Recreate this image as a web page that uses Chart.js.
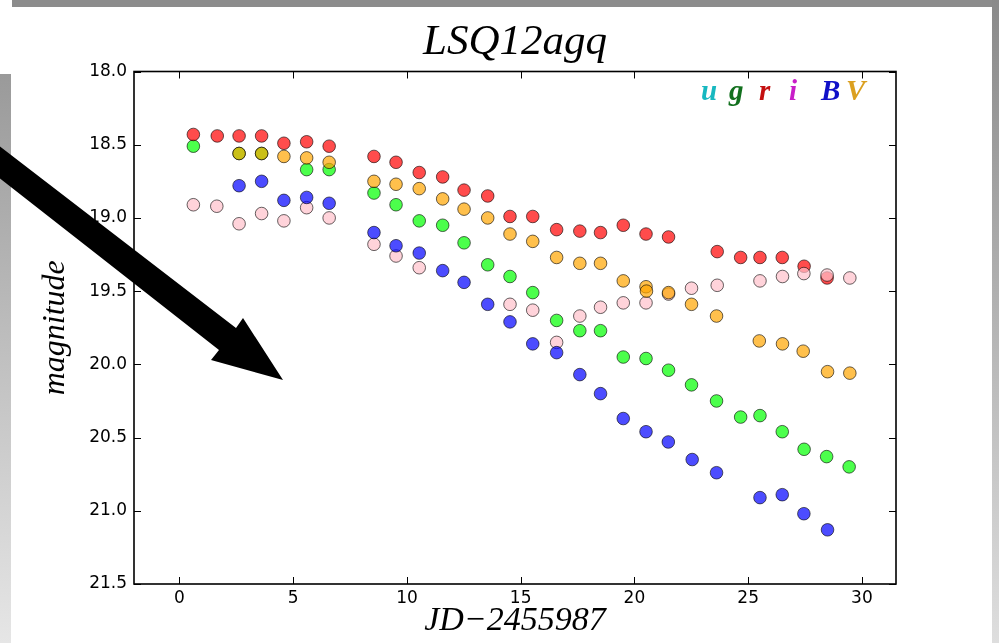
<!DOCTYPE html>
<html>
<head>
<meta charset="utf-8">
<script src="https://cdn.jsdelivr.net/npm/chart.js@4.4.1/dist/chart.umd.min.js"></script>
<style>
  html, body { margin:0; padding:0; background:#fff; }
  body { width:999px; height:643px; position:relative; overflow:hidden; }
  #wrap { position:absolute; left:0; top:0; width:999px; height:643px; }
  .strip-top { position:absolute; left:12px; top:0; width:987px; height:7px; background:#8c8c8c; }
  .strip-left { position:absolute; left:0; top:74px; width:11px; height:569px; background:linear-gradient(#9a9a9a,#e6e6e6); }
  .strip-right { position:absolute; left:992px; top:0; width:7px; height:643px; background:linear-gradient(#8a8a8a,#dedede); }
  #bands { position:absolute; left:0; top:0; font:italic bold 29px 'Liberation Serif'; line-height:28px; }
  #bands span { position:absolute; top:76px; }
  svg { position:absolute; left:0; top:0; }
</style>
</head>
<body>
<div class="strip-top"></div>
<div class="strip-left"></div>
<div class="strip-right"></div>
<div id="wrap"><canvas id="lc"></canvas></div>
<div id="bands">
  <span style="left:701px;color:#17b8c0">u</span>
  <span style="left:729px;color:#12701e">g</span>
  <span style="left:759px;color:#c41010">r</span>
  <span style="left:789px;color:#c81ec8">i</span>
  <span style="left:821px;color:#1010c8">B</span>
  <span style="left:846px;color:#dba020">V</span>
</div>
<svg width="999" height="643">
  <path d="M -11 138 L 236 328 L 243 318 L 283 380 L 211 360 L 219 350 L -26 158 Z" fill="#000"/>
</svg>
<script>
// light curve of LSQ12agq, magnitudes
const xTicks = [0, 5, 10, 15, 20, 25, 30];
const yTicks = [18.0, 18.5, 19.0, 19.5, 20.0, 20.5, 21.0, 21.5];

const rX   = [0.61,1.66,2.62,3.61,4.59,5.59,6.58,8.55,9.52,10.54,11.57,12.51,13.55,14.53,15.53,16.58,17.60,18.51,19.51,20.51,21.50,23.64,24.67,25.52,26.50,27.46,28.47];
const rMag = [18.43,18.44,18.44,18.44,18.49,18.48,18.51,18.58,18.62,18.69,18.72,18.81,18.85,18.99,18.99,19.08,19.09,19.10,19.05,19.11,19.13,19.23,19.27,19.27,19.27,19.33,19.41];

const gX   = [0.61,2.62,3.61,5.59,6.58,8.55,9.52,10.54,11.57,12.51,13.55,14.53,15.53,16.58,17.60,18.51,19.51,20.51,21.50,22.51,23.61,24.67,25.52,26.50,27.46,28.45,29.44];
const gMag = [18.51,18.56,18.56,18.67,18.67,18.83,18.91,19.02,19.05,19.17,19.32,19.40,19.51,19.70,19.77,19.77,19.95,19.96,20.04,20.14,20.25,20.36,20.35,20.46,20.58,20.63,20.70];

const iX   = [0.61,1.64,2.62,3.61,4.59,5.59,6.58,8.55,9.52,10.54,14.53,15.53,16.58,17.60,18.51,19.51,20.51,21.50,22.51,23.64,25.52,26.51,27.45,28.47,29.47];
const iMag = [18.91,18.92,19.04,18.97,19.02,18.93,19.00,19.18,19.26,19.34,19.59,19.63,19.85,19.67,19.61,19.58,19.58,19.52,19.48,19.46,19.43,19.40,19.38,19.39,19.41];

const bX   = [2.62,3.61,4.59,5.59,6.58,8.55,9.52,10.54,11.57,12.51,13.55,14.53,15.53,16.58,17.60,18.51,19.51,20.51,21.49,22.54,23.61,25.52,26.50,27.45,28.49];
const bMag = [18.78,18.75,18.88,18.86,18.90,19.10,19.19,19.24,19.36,19.44,19.59,19.71,19.86,19.92,20.07,20.20,20.37,20.46,20.53,20.65,20.74,20.91,20.89,21.02,21.13];

const vX   = [2.62,3.61,4.59,5.59,6.58,8.55,9.52,10.54,11.57,12.51,13.55,14.53,15.53,16.58,17.60,18.51,19.51,20.51,20.53,21.50,22.51,23.61,25.49,26.51,27.42,28.49,29.47];
const vMag = [18.56,18.56,18.58,18.59,18.62,18.75,18.77,18.80,18.87,18.94,19.00,19.11,19.16,19.27,19.31,19.31,19.43,19.47,19.50,19.51,19.59,19.67,19.84,19.86,19.91,20.05,20.06];

const pts = (xs, ys) => xs.map((x, k) => ({ x, y: ys[k] }));

function band(label, xs, ys, fill, order) {
  return {
    label, data: pts(xs, ys), order,
    backgroundColor: fill,
    borderColor: 'rgba(0,0,0,0.6)',
    borderWidth: 1,
    pointRadius: 6.3,
    pointHoverRadius: 6.3,
  };
}

// matplotlib-like frame with inward ticks on all four sides
const frame = {
  id: 'frame',
  afterDatasetsDraw(chart) {
    const { ctx, chartArea: a, scales: { x, y } } = chart;
    ctx.save();
    ctx.strokeStyle = '#000';
    ctx.lineWidth = 1;
    ctx.beginPath();
    xTicks.forEach(v => {
      const px = Math.round(x.getPixelForValue(v)) + 0.5;
      ctx.moveTo(px, a.bottom); ctx.lineTo(px, a.bottom - 7);
      ctx.moveTo(px, a.top);    ctx.lineTo(px, a.top + 7);
    });
    yTicks.forEach(v => {
      const py = Math.round(y.getPixelForValue(v)) + 0.5;
      ctx.moveTo(a.left, py);  ctx.lineTo(a.left + 7, py);
      ctx.moveTo(a.right, py); ctx.lineTo(a.right - 7, py);
    });
    ctx.stroke();
    ctx.lineWidth = 1.6;
    ctx.strokeRect(a.left, a.top, a.right - a.left, a.bottom - a.top);
    ctx.restore();
  }
};

const tickFont = { family: 'DejaVu Sans', size: 17 };

new Chart(document.getElementById('lc'), {
  type: 'scatter',
  data: {
    datasets: [
      band('g', gX, gMag, 'rgba(0,255,0,0.7)', 4),
      band('r', rX, rMag, 'rgba(255,0,0,0.7)', 3),
      band('i', iX, iMag, 'rgba(255,192,203,0.7)', 2),
      band('B', bX, bMag, 'rgba(0,0,255,0.7)', 1),
      band('V', vX, vMag, 'rgba(255,165,0,0.7)', 0),
    ],
  },
  options: {
    responsive: true,
    maintainAspectRatio: false,
    animation: false,
    events: [],
    layout: { padding: { top: 0, left: 0, right: 103, bottom: 0 } },
    plugins: {
      legend: { display: false },
      tooltip: { enabled: false },
      title: {
        display: true,
        text: 'LSQ12agq',
        fullSize: false,
        color: '#000',
        font: { family: 'Liberation Serif', style: 'italic', size: 43, weight: 'normal', lineHeight: 1.2 },
        padding: { top: 17, bottom: 2.9 },
      },
    },
    scales: {
      x: {
        type: 'linear', min: -2, max: 31.5,
        afterFit: s => { s.height = 59; },
        afterBuildTicks: s => { s.ticks = xTicks.map(v => ({ value: v })); },
        grid: { display: false, drawTicks: false },
        border: { display: false },
        ticks: { color: '#000', font: tickFont, padding: 4, maxRotation: 0 },
        title: {
          display: true, text: 'JD\u22122455987', color: '#000',
          font: { family: 'Liberation Serif', style: 'italic', size: 34, lineHeight: 1.0 },
          padding: { top: 0, bottom: 5 },
        },
      },
      y: {
        type: 'linear', min: 18, max: 21.5, reverse: true,
        afterFit: s => { s.width = 134; },
        afterBuildTicks: s => { s.ticks = yTicks.map(v => ({ value: v })); },
        grid: { display: false, drawTicks: false },
        border: { display: false },
        ticks: { color: '#000', font: tickFont, padding: 7, callback: v => v.toFixed(1) },
        title: {
          display: true, text: 'magnitude', color: '#000',
          font: { family: 'Liberation Serif', style: 'italic', size: 32, lineHeight: 1.2 },
          padding: { top: 36, bottom: 0 },
        },
      },
    },
  },
  plugins: [frame],
});
</script>
</body>
</html>
